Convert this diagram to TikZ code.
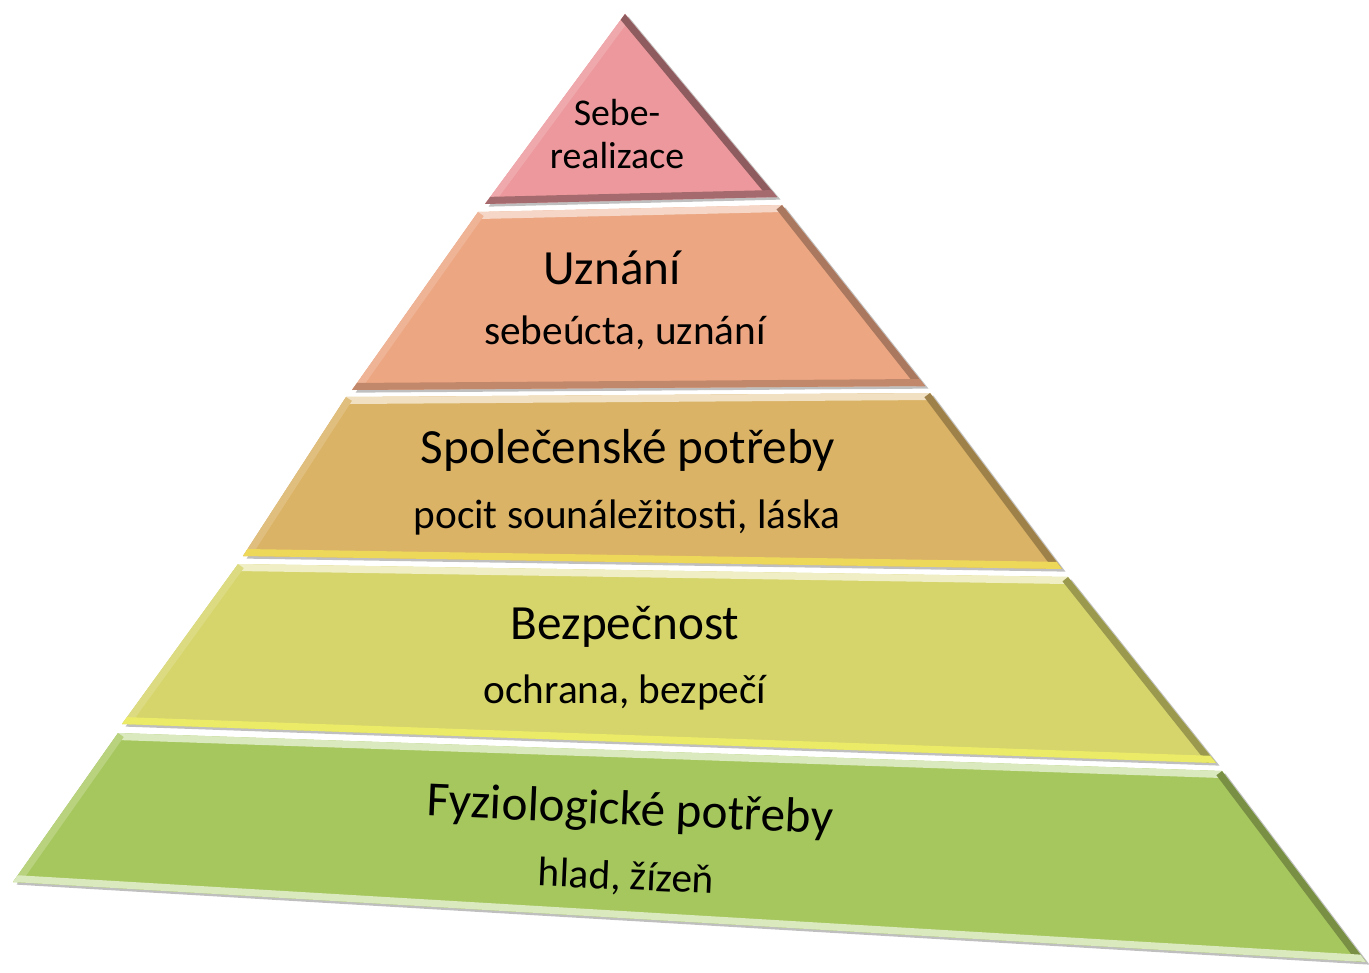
\documentclass[tikz,border=0pt]{standalone}
\usepackage{fontspec}
\setmainfont{Carlito}
\usetikzlibrary{shadows}
\definecolor{cervena}{RGB}{236,152,156}
\definecolor{losos}{RGB}{236,166,130}
\definecolor{okrova}{RGB}{219,179,102}
\definecolor{zlutozelena}{RGB}{214,213,108}
\definecolor{zelena}{RGB}{166,199,94}
\tikzstyle{vrstva} = [line join=round, drop shadow={shadow xshift=2pt, shadow yshift=-1.5pt, opacity=.5}]
\tikzstyle{stin} = [line width=8pt]
\tikzstyle{nadpis} = [text centered, font=\fontsize{28}{32}\selectfont]
\tikzstyle{popis} = [text centered, font=\fontsize{23.5}{28}\selectfont]

\begin{document}
\begin{tikzpicture}[x=0.02cm, y=-0.02cm]
    \useasboundingbox (0,0) rectangle (1369,973);
    % Rohy vrstev
    \coordinate (vrchol) at (625,14);
    \coordinate (l1) at (485,204);  \coordinate (r1) at (777,197);
    \coordinate (l2h) at (478,212); \coordinate (r2h) at (782,205);
    \coordinate (l2) at (352,390);  \coordinate (r2) at (925,386);
    \coordinate (l3h) at (346,397); \coordinate (r3h) at (930,393);
    \coordinate (l3) at (243,556);  \coordinate (r3) at (1062,569);
    \coordinate (l4h) at (238,564); \coordinate (r4h) at (1068,577);
    \coordinate (l4) at (122,724);  \coordinate (r4) at (1216,763);
    \coordinate (l5h) at (118,733); \coordinate (r5h) at (1222,771);
    \coordinate (l5) at (13,882);   \coordinate (r5) at (1366,962);

    % Vrstvy
    \fill[vrstva, fill=cervena] (vrchol) -- (r1) -- (l1) -- cycle;
    \begin{scope}
        \clip (vrchol) -- (r1) -- (l1) -- cycle;
        \draw[stin, cervena!85!white] (vrchol) -- (l1);
        \draw[stin, cervena!60!black] (vrchol) -- (r1);
        \draw[stin, cervena!70!black] (l1) -- (r1);
    \end{scope}

    \fill[vrstva, fill=losos] (l2h) -- (r2h) -- (r2) -- (l2) -- cycle;
    \begin{scope}
        \clip (l2h) -- (r2h) -- (r2) -- (l2) -- cycle;
        \draw[stin, losos!45!white] (l2h) -- (r2h);
        \draw[stin, losos!85!white] (l2h) -- (l2);
        \draw[stin, losos!72!black] (r2h) -- (r2);
        \draw[stin, losos!82!black] (l2) -- (r2);
    \end{scope}

    \fill[vrstva, fill=okrova] (l3h) -- (r3h) -- (r3) -- (l3) -- cycle;
    \begin{scope}
        \clip (l3h) -- (r3h) -- (r3) -- (l3) -- cycle;
        \draw[stin, okrova!40!white] (l3h) -- (r3h);
        \draw[stin, okrova!85!white] (l3h) -- (l3);
        \draw[stin, okrova!72!black] (r3h) -- (r3);
        \draw[stin, okrova!60!yellow!85!white] (l3) -- (r3);
    \end{scope}

    \fill[vrstva, fill=zlutozelena] (l4h) -- (r4h) -- (r4) -- (l4) -- cycle;
    \begin{scope}
        \clip (l4h) -- (r4h) -- (r4) -- (l4) -- cycle;
        \draw[stin, zlutozelena!40!white] (l4h) -- (r4h);
        \draw[stin, zlutozelena!85!white] (l4h) -- (l4);
        \draw[stin, zlutozelena!72!black] (r4h) -- (r4);
        \draw[stin, zlutozelena!60!yellow!80!white] (l4) -- (r4);
    \end{scope}

    \fill[vrstva, fill=zelena] (l5h) -- (r5h) -- (r5) -- (l5) -- cycle;
    \begin{scope}
        \clip (l5h) -- (r5h) -- (r5) -- (l5) -- cycle;
        \draw[stin, zelena!40!white] (l5h) -- (r5h);
        \draw[stin, zelena!80!white] (l5h) -- (l5);
        \draw[stin, zelena!72!black] (r5h) -- (r5);
        \draw[stin, zelena!40!white] (l5) -- (r5);
    \end{scope}

    % Texty
    \node (seberealizace) [text centered, align=center, font=\fontsize{21.5}{25}\selectfont] at (617,134) {Sebe-\\realizace};
    \node (uznani) [nadpis] at (612,268) {Uznání};
    \node (uznanipopis) [popis] at (625,333) {sebeúcta, uznání};
    \node (spolecenske) [nadpis] at (628,450) {Společenské potřeby};
    \node (spolecenskepopis) [popis] at (627,517) {pocit sounáležitosti, láska};
    \node (bezpecnost) [nadpis] at (625,627) {Bezpečnost};
    \node (bezpecnostpopis) [popis] at (625,692) {ochrana, bezpečí};
    \node (fyziologicke) [nadpis, rotate=-2.5] at (630,812) {Fyziologické potřeby};
    \node (fyziologickepopis) [popis, rotate=-2.5] at (626,878) {hlad, žízeň};
\end{tikzpicture}
\end{document}
